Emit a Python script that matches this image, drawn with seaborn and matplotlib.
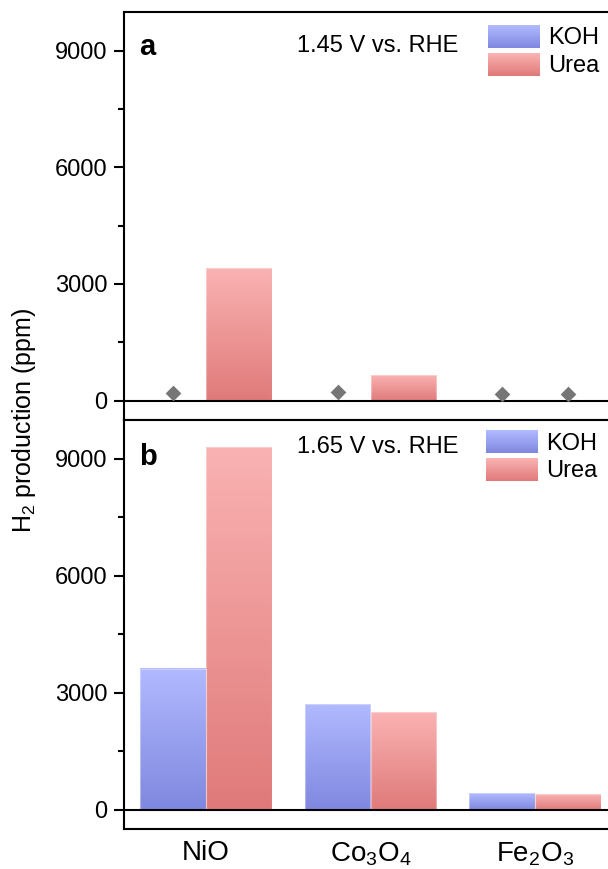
import numpy as np
import pandas as pd
import matplotlib
matplotlib.use('Agg')
import matplotlib.pyplot as plt
import seaborn as sns
from matplotlib.ticker import MultipleLocator
from matplotlib.legend_handler import HandlerBase
from matplotlib.patches import Patch, Rectangle
from matplotlib.colors import to_rgb

# --- data ---
catalysts = ['NiO', 'Co$_3$O$_4$', 'Fe$_2$O$_3$']
solutions = ['KOH', 'Urea']

koh_145 = [0, 0, 0]             # no bars for KOH at 1.45 V
urea_145 = [3400, 650, 0]
koh_165 = [3620, 2700, 420]
urea_165 = [9300, 2500, 400]

# small signals drawn as diamonds in panel a
dot_cats = ['NiO', 'Co$_3$O$_4$', 'Fe$_2$O$_3$', 'Fe$_2$O$_3$']
dot_sols = ['KOH', 'KOH', 'KOH', 'Urea']
dot_vals = [190, 220, 170, 170]

# gradient colours (top, bottom)
grad_colors = {
    'KOH': ('#b1b9ff', '#7f88df'),
    'Urea': ('#fab2b2', '#e07a7a'),
}

sns.set_style('ticks')
plt.rcParams['font.family'] = ['Liberation Sans', 'DejaVu Sans']
plt.rcParams['mathtext.default'] = 'regular'
for k in ['text.color', 'axes.labelcolor', 'xtick.color', 'ytick.color',
          'axes.edgecolor']:
    plt.rcParams[k] = 'black'


class GradientHandler(HandlerBase):
    def __init__(self, top, bottom, n=24):
        super().__init__()
        self.top = np.array(to_rgb(top))
        self.bottom = np.array(to_rgb(bottom))
        self.n = n

    def create_artists(self, legend, orig_handle, xdescent, ydescent,
                       width, height, fontsize, trans):
        arts = []
        for i in range(self.n):
            t = i / (self.n - 1)
            c = self.bottom * (1 - t) + self.top * t
            r = Rectangle((-xdescent, -ydescent + height * i / self.n),
                          width, height / self.n * 1.05,
                          facecolor=c, edgecolor='none', transform=trans)
            arts.append(r)
        return arts


def gradient_bars(ax):
    dark = {s: np.array(to_rgb(grad_colors[s][1])) for s in solutions}
    for p in list(ax.patches):
        h = p.get_height()
        if not np.isfinite(h) or h == 0:
            p.set_visible(False)
            continue
        fc = np.array(p.get_facecolor()[:3])
        sol = min(solutions, key=lambda s: np.abs(dark[s] - fc).sum())
        top = np.array(to_rgb(grad_colors[sol][0]))
        bot = np.array(to_rgb(grad_colors[sol][1]))
        t = np.linspace(0, 1, 64)[:, None]
        grad = (top * (1 - t) + bot * t)[:, None, :]
        x, y, w = p.get_x(), p.get_y(), p.get_width()
        ax.imshow(grad, extent=[x, x + w, y, y + h], origin='upper',
                  aspect='auto', interpolation='bilinear', zorder=2)
        p.set_facecolor('none')
        p.set_edgecolor((1, 1, 1, 0.35))
        p.set_linewidth(0.8)
        p.set_zorder(2.5)


def style_axis(ax, label, volt, leg_xy):
    ax.set_xlim(-0.5, 2.5)
    ax.set_ylim(-500, 10000)
    ax.set_yticks([0, 3000, 6000, 9000])
    ax.yaxis.set_minor_locator(MultipleLocator(1500))
    ax.tick_params(axis='y', which='major', direction='out', length=7,
                   width=1.5, labelsize=17, pad=5)
    ax.tick_params(axis='y', which='minor', direction='out', length=4,
                   width=1.5)
    ax.tick_params(axis='x', length=0, labelsize=20, pad=8)
    for s in ax.spines.values():
        s.set_linewidth(1.5)
    ax.axhline(0, color='black', lw=1.5, zorder=3)
    ax.set_xlabel('')
    ax.set_ylabel('')
    ax.text(0.03, leg_xy[2], label, transform=ax.transAxes, fontsize=21,
            fontweight='bold', va='baseline')
    ax.text(0.351, leg_xy[3], volt, transform=ax.transAxes, fontsize=17,
            va='baseline')
    handles = [Patch(label=s) for s in solutions]
    hmap = {h: GradientHandler(*grad_colors[h.get_label()]) for h in handles}
    ax.legend(handles=handles, handler_map=hmap, loc='upper left',
              bbox_to_anchor=(leg_xy[0], leg_xy[1]), frameon=False,
              fontsize=17, handlelength=2.2, handleheight=1.1,
              handletextpad=0.35, labelspacing=0.15, borderpad=0,
              borderaxespad=0)


fig = plt.figure(figsize=(6.08, 8.69), dpi=100)
W, H = 608, 869
ax_a = fig.add_axes([124 / W, 1 - 420 / H, 493 / W, 408 / H])
ax_b = fig.add_axes([124 / W, 1 - 829 / H, 493 / W, 409 / H])

palette = {s: grad_colors[s][1] for s in solutions}

df_a = pd.DataFrame({'catalyst': catalysts * 2,
                     'solution': ['KOH'] * 3 + ['Urea'] * 3,
                     'value': koh_145 + urea_145})
df_b = pd.DataFrame({'catalyst': catalysts * 2,
                     'solution': ['KOH'] * 3 + ['Urea'] * 3,
                     'value': koh_165 + urea_165})
dots = pd.DataFrame({'catalyst': dot_cats, 'solution': dot_sols,
                     'value': dot_vals})

sns.barplot(data=df_a, x='catalyst', y='value', hue='solution',
            order=catalysts, hue_order=solutions, palette=palette,
            width=0.8, gap=0, legend=False, ax=ax_a)
sns.stripplot(data=dots, x='catalyst', y='value', hue='solution',
              order=catalysts, hue_order=solutions,
              palette={'KOH': '#767676', 'Urea': '#767676'},
              dodge=True, jitter=False, marker='D', size=8, linewidth=0,
              legend=False, ax=ax_a, zorder=4)
sns.barplot(data=df_b, x='catalyst', y='value', hue='solution',
            order=catalysts, hue_order=solutions, palette=palette,
            width=0.8, gap=0, legend=False, ax=ax_b)

gradient_bars(ax_a)
gradient_bars(ax_b)

style_axis(ax_a, 'a', '1.45 V vs. RHE', (0.738, 0.968, 0.895, 0.902))
style_axis(ax_b, 'b', '1.65 V vs. RHE', (0.734, 0.975, 0.89, 0.919))
ax_a.set_xticks(range(3))
ax_a.set_xticklabels([])
ax_b.set_xticks(range(3))
ax_b.set_xticklabels(catalysts)

fig.text(24 / W, 1 - 420 / H, 'H$_2$ production (ppm)', rotation=90,
         ha='center', va='center', fontsize=18)

fig.savefig('out.png', dpi=100)
